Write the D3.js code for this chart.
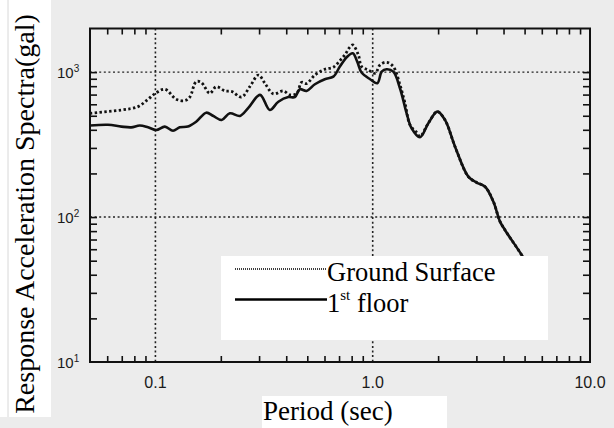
<!DOCTYPE html>
<html>
<head>
<meta charset="utf-8">
<script src="https://cdn.jsdelivr.net/npm/d3@7/dist/d3.min.js"></script>
<style>
  html, body { margin: 0; padding: 0; background: #ececec; }
  svg { display: block; }
</style>
</head>
<body>
<div id="chart"></div>
<script>
// Ground surface (dotted) spectrum
var periodGround = [0.05, 0.0697, 0.0832, 0.0925, 0.100, 0.1105, 0.1247, 0.1365, 0.144, 0.154, 0.1626,
  0.178, 0.1905, 0.209, 0.224, 0.249, 0.272, 0.298, 0.319, 0.349, 0.388, 0.416, 0.447, 0.471, 0.496,
  0.542, 0.602, 0.659, 0.706, 0.746, 0.78, 0.809, 0.859, 0.889, 0.955, 1.026, 1.081, 1.159, 1.244,
  1.335, 1.408, 1.485, 1.593, 1.651, 1.803, 1.983, 2.151, 2.393, 2.754, 3.01, 3.29, 3.59, 3.855, 4.06, 4.85, 5.1];
var accelGround = [520, 548, 578, 650, 714, 762, 650, 636, 673, 859, 850,
  714, 793, 742, 737, 673, 794, 955, 838, 708, 742, 697, 714, 850, 834,
  955, 1047, 1082, 1200, 1320, 1470, 1541, 1315, 1092, 1035, 982, 1122, 1170, 1092,
  817, 610, 432, 383, 360, 444, 534, 468, 306, 190, 173, 162, 128, 93, 81.5, 54.7, 48];

// 1st floor (solid) spectrum
var periodFloor = [0.05, 0.0605, 0.0697, 0.0774, 0.0847, 0.0925, 0.1009, 0.1105, 0.1205, 0.1294, 0.141,
  0.154, 0.1714, 0.184, 0.2018, 0.220, 0.245, 0.267, 0.303, 0.336, 0.368, 0.409, 0.438, 0.462, 0.496,
  0.542, 0.602, 0.659, 0.706, 0.759, 0.809, 0.849, 0.889, 0.973, 1.05, 1.10, 1.159, 1.244, 1.335,
  1.433, 1.51, 1.651, 1.803, 1.983, 2.151, 2.393, 2.754, 3.01, 3.29, 3.59, 3.855, 4.06, 4.85, 5.1];
var accelFloor = [428, 433, 421, 416, 428, 416, 399, 421, 394, 416, 421,
  455, 525, 500, 468, 520, 499, 564, 697, 548, 625, 673, 673, 762, 742,
  825, 893, 931, 1092, 1268, 1349, 1181, 993, 893, 838, 1007, 1047, 1007, 774,
  520, 410, 356, 444, 534, 468, 306, 190, 173, 162, 128, 93, 81.5, 54.7, 48];

var gridPeriods = [0.1, 1];
var gridAccels = [100, 1000];
var minorPeriods = [0.06, 0.07, 0.08, 0.09, 0.2, 0.3, 0.4, 0.5, 0.6, 0.7, 0.8, 0.9, 2, 3, 4, 5, 6, 7, 8, 9];
var minorAccels = [20, 30, 40, 50, 60, 70, 80, 90, 200, 300, 400, 500, 600, 700, 800, 900];
var periodLabels = ['0.1', '1.0', '10.0'];
var periodLabelValues = [0.1, 1, 10];
var accelLabelValues = [1000, 100, 10];
var accelLabelExps = ['3', '2', '1'];

(function() {
  'use strict';

  var width = 614;
  var height = 428;

  var plotLeft = 90, plotRight = 590, plotTop = 28.5, plotBottom = 362;

  var svg = d3.select('#chart')
    .append('svg')
    .attr('width', width)
    .attr('height', height);

  svg.append('rect')
    .attr('width', width)
    .attr('height', height)
    .attr('fill', '#ececec');

  var xScale = d3.scaleLog().domain([0.05, 10]).range([plotLeft, plotRight]);
  var yScale = d3.scaleLog().domain([10, 2000]).range([plotBottom, plotTop]);

  // Grid lines (dotted).
  svg.selectAll('.gridx')
    .data(gridPeriods)
    .enter().append('line')
    .attr('x1', function(d) { return xScale(d); })
    .attr('x2', function(d) { return xScale(d); })
    .attr('y1', plotTop)
    .attr('y2', plotBottom)
    .attr('stroke', '#222')
    .attr('stroke-width', 1.6)
    .attr('stroke-dasharray', '2,2.6');

  svg.selectAll('.gridy')
    .data(gridAccels)
    .enter().append('line')
    .attr('x1', plotLeft)
    .attr('x2', plotRight)
    .attr('y1', function(d) { return yScale(d); })
    .attr('y2', function(d) { return yScale(d); })
    .attr('stroke', '#222')
    .attr('stroke-width', 1.4)
    .attr('stroke-dasharray', '2,2.6');

  // Minor ticks pointing inward on all four sides.
  function noLabel() { return ''; }

  svg.append('g')
    .attr('transform', 'translate(0,' + plotBottom + ')')
    .call(d3.axisBottom(xScale).tickValues(minorPeriods).tickFormat(noLabel).tickSizeInner(-6).tickSizeOuter(0));
  svg.append('g')
    .attr('transform', 'translate(0,' + plotTop + ')')
    .call(d3.axisTop(xScale).tickValues(minorPeriods).tickFormat(noLabel).tickSizeInner(-6).tickSizeOuter(0));
  svg.append('g')
    .attr('transform', 'translate(' + plotLeft + ',0)')
    .call(d3.axisLeft(yScale).tickValues(minorAccels.concat(gridAccels)).tickFormat(noLabel).tickSizeInner(-7).tickSizeOuter(0));
  svg.append('g')
    .attr('transform', 'translate(' + plotRight + ',0)')
    .call(d3.axisRight(yScale).tickValues(minorAccels.concat(gridAccels)).tickFormat(noLabel).tickSizeInner(-7).tickSizeOuter(0));

  svg.selectAll('.domain').remove();
  svg.selectAll('.tick line').attr('stroke', '#111').attr('stroke-width', 1.6);

  // Curves, clipped to the frame.
  svg.append('defs').append('clipPath').attr('id', 'plot-clip')
    .append('rect')
    .attr('x', plotLeft)
    .attr('y', plotTop)
    .attr('width', plotRight - plotLeft)
    .attr('height', plotBottom - plotTop);

  var line = d3.line()
    .x(function(d) { return xScale(d[0]); })
    .y(function(d) { return yScale(d[1]); })
    .curve(d3.curveCatmullRom.alpha(0.5));

  var plot = svg.append('g').attr('clip-path', 'url(#plot-clip)');

  plot.append('path')
    .datum(d3.zip(periodGround, accelGround))
    .attr('d', line)
    .attr('fill', 'none')
    .attr('stroke', '#111')
    .attr('stroke-width', 2.8)
    .attr('stroke-dasharray', '2.4,2.4');

  plot.append('path')
    .datum(d3.zip(periodFloor, accelFloor))
    .attr('d', line)
    .attr('fill', 'none')
    .attr('stroke', '#111')
    .attr('stroke-width', 2.6)
    .attr('stroke-linejoin', 'round');

  // Frame.
  svg.append('rect')
    .attr('x', plotLeft)
    .attr('y', plotTop)
    .attr('width', plotRight - plotLeft)
    .attr('height', plotBottom - plotTop)
    .attr('fill', 'none')
    .attr('stroke', '#111')
    .attr('stroke-width', 2);

  // Tick labels.
  svg.selectAll('.xlabel')
    .data(periodLabelValues)
    .enter().append('text')
    .attr('x', function(d) { return xScale(d); })
    .attr('y', 388)
    .attr('text-anchor', 'middle')
    .attr('font-family', 'Liberation Sans, Arial, sans-serif')
    .attr('font-size', 16)
    .attr('fill', '#1a1a1a')
    .text(function(d, i) { return periodLabels[i]; });

  var ylabels = svg.selectAll('.ylabel')
    .data(accelLabelValues)
    .enter().append('text')
    .attr('x', 57)
    .attr('y', function(d) { return yScale(d) + 6; })
    .attr('font-family', 'Liberation Sans, Arial, sans-serif')
    .attr('font-size', 15)
    .attr('fill', '#1a1a1a');
  ylabels.append('tspan').text('10');
  ylabels.append('tspan')
    .attr('font-size', 10)
    .attr('dy', -6)
    .text(function(d, i) { return accelLabelExps[i]; });

  // White boxes pasted over the scan for the titles and legend.
  svg.append('rect').attr('x', 0).attr('y', 0).attr('width', 51).attr('height', 417).attr('fill', '#fff');
  svg.append('line').attr('x1', 8).attr('x2', 8).attr('y1', 0).attr('y2', 417).attr('stroke', '#d8d8d8').attr('stroke-width', 1);
  svg.append('rect').attr('x', 262).attr('y', 396).attr('width', 185).attr('height', 32).attr('fill', '#fff');
  svg.append('rect').attr('x', 221).attr('y', 256).attr('width', 327).attr('height', 84).attr('fill', '#fff');

  var serif = 'Liberation Serif, Times New Roman, serif';

  svg.append('text')
    .attr('transform', 'translate(34,214) rotate(-90)')
    .attr('text-anchor', 'middle')
    .attr('font-family', serif)
    .attr('font-size', 28)
    .attr('fill', '#000')
    .text('Response Acceleration Spectra(gal)');

  svg.append('text')
    .attr('x', 263)
    .attr('y', 420)
    .attr('font-family', serif)
    .attr('font-size', 27)
    .attr('fill', '#000')
    .text('Period (sec)');

  // Legend.
  svg.append('line')
    .attr('x1', 235).attr('x2', 327).attr('y1', 269).attr('y2', 269)
    .attr('stroke', '#000').attr('stroke-width', 1.3).attr('stroke-dasharray', '1,1');
  svg.append('text')
    .attr('x', 327).attr('y', 281)
    .attr('font-family', serif).attr('font-size', 26.5).attr('fill', '#000')
    .text('Ground Surface');

  svg.append('line')
    .attr('x1', 235).attr('x2', 327).attr('y1', 299.5).attr('y2', 299.5)
    .attr('stroke', '#000').attr('stroke-width', 2.4);
  var floorLabel = svg.append('text')
    .attr('x', 327).attr('y', 312)
    .attr('font-family', serif).attr('font-size', 26.5).attr('fill', '#000');
  floorLabel.append('tspan').text('1');
  floorLabel.append('tspan').attr('font-size', 15).attr('dy', -12).text('st');
  floorLabel.append('tspan').attr('dy', 12).text(' floor');
}());
</script>
</body>
</html>
